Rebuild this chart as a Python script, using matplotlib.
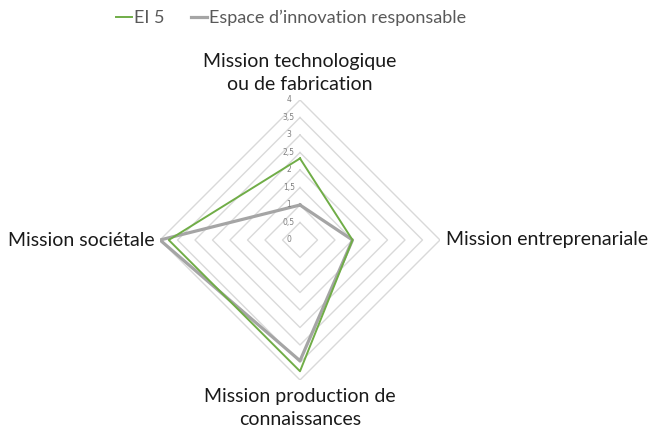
import numpy as np
import matplotlib
matplotlib.use("Agg")
import matplotlib.pyplot as plt
from matplotlib.lines import Line2D

plt.rcParams['font.family'] = ['Lato', 'DejaVu Sans']

categories = ["Mission technologique\nou de fabrication",
              "Mission entreprenariale",
              "Mission production de\nconnaissances",
              "Mission sociétale"]
series_names = ["EI 5", "Espace d\u2019innovation responsable"]
ei5 = [2.33, 1.5, 3.75, 3.75]
espace = [1.0, 1.5, 3.45, 4.0]
ticks = [0, 0.5, 1, 1.5, 2, 2.5, 3, 3.5, 4]
tick_labels = ["0", "0,5", "1", "1,5", "2", "2,5", "3", "3,5", "4"]

W, H = 653, 437
fig = plt.figure(figsize=(W / 100, H / 100), dpi=100)
cx, cy, R = 300, 240, 140
ax = fig.add_axes([(cx - R) / W, (H - cy - R) / H, 2 * R / W, 2 * R / H], projection='polar')
ax.set_theta_offset(np.pi / 2)
ax.set_theta_direction(-1)
ax.set_ylim(0, 4)
ax.set_xticks([])
ax.set_yticks([])
ax.grid(False)
ax.spines['polar'].set_visible(False)
ax.patch.set_alpha(0)

n = len(categories)
angles = np.arange(n) * 2 * np.pi / n
closed = np.concatenate([angles, angles[:1]])

# diamond gridlines
for t in ticks[1:]:
    ax.plot(closed, [t] * (n + 1), color='#D9D9D9', lw=1.0, zorder=1)

# tick labels
for t, lab in zip(ticks, tick_labels):
    ax.annotate(lab, xy=(0, t), xytext=(-8, 0), textcoords='offset points',
                ha='center', va='center', fontsize=5.5, color='#7F7F7F',
                family=['DejaVu Sans'])

green = '#70AD47'
gray = '#A5A5A5'
ax.plot(closed, ei5 + ei5[:1], color=green, lw=1.4, zorder=3)
ax.plot(closed, espace + espace[:1], color=gray, lw=2.3, zorder=2)

# category labels
lab_kw = dict(fontsize=14, color='#1a1a1a', linespacing=1.4)
ax.annotate(categories[0], xy=(angles[0], 4), xytext=(0, 5), textcoords='offset points',
            ha='center', va='bottom', **lab_kw)
ax.annotate(categories[1], xy=(angles[1], 4), xytext=(4, 0), textcoords='offset points',
            ha='left', va='center', **lab_kw)
ax.annotate(categories[2], xy=(angles[2], 4), xytext=(0, -6), textcoords='offset points',
            ha='center', va='top', **lab_kw)
ax.annotate(categories[3], xy=(angles[3], 4), xytext=(-4, 0), textcoords='offset points',
            ha='right', va='center', **lab_kw)

handles = [Line2D([], [], color=green, lw=1.4), Line2D([], [], color=gray, lw=2.3)]
leg = fig.legend(handles, series_names, loc='center', bbox_to_anchor=(291 / W, 1 - 18 / H),
                 ncol=2, frameon=False, fontsize=13, handlelength=0.9, handletextpad=0.1,
                 columnspacing=1.5, labelcolor='#595959')

fig.savefig('out.png', dpi=100)
